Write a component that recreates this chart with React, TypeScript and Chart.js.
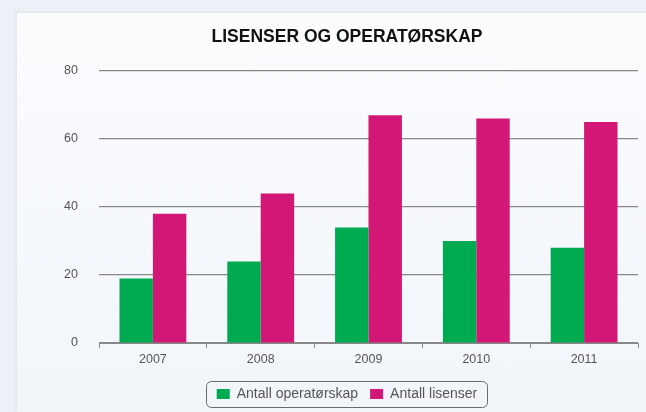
import React, { useEffect, useRef } from "react";
import { Chart, registerables } from "chart.js";

Chart.register(...registerables);

const categories = ["2007", "2008", "2009", "2010", "2011"];
const operatorskap = [19, 24, 34, 30, 28];
const lisenser = [38, 44, 67, 66, 65];
const seriesNames = ["Antall operatørskap", "Antall lisenser"];
const yTicks = [0, 20, 40, 60, 80];

const FONT = "Liberation Sans, Arial, Helvetica, sans-serif";

const legendBorder = {
  id: "legendBorder",
  afterDraw(chart: any) {
    const lg = chart.legend;
    if (!lg || !lg.legendHitBoxes || !lg.legendHitBoxes.length) return;
    const boxes = lg.legendHitBoxes;
    let l = Infinity, r = -Infinity, t = Infinity, b = -Infinity;
    for (const h of boxes) {
      l = Math.min(l, h.left);
      r = Math.max(r, h.left + h.width);
      t = Math.min(t, h.top);
      b = Math.max(b, h.top + h.height);
    }
    const ctx = chart.ctx;
    ctx.save();
    ctx.strokeStyle = "#6a6a6a";
    ctx.lineWidth = 1;
    ctx.beginPath();
    const cy = (t + b) / 2;
    const x = Math.round(l - 11) + 0.5;
    const y = Math.round(cy - 13) + 0.5;
    const w = Math.round(r - l + 20);
    const hh = 26;
    (ctx as any).roundRect(x, y, w, hh, 5);
    ctx.stroke();
    ctx.restore();
  },
};

export default function App() {
  const ref = useRef<HTMLCanvasElement>(null);
  useEffect(() => {
    document.body.style.margin = "0";
    const chart = new Chart(ref.current!, {
      type: "bar",
      data: {
        labels: categories,
        datasets: [
          {
            label: seriesNames[0],
            data: operatorskap,
            backgroundColor: "#00aa50",
            categoryPercentage: 0.62,
            barPercentage: 1,
          },
          {
            label: seriesNames[1],
            data: lisenser,
            backgroundColor: "#d21777",
            categoryPercentage: 0.62,
            barPercentage: 1,
          },
        ],
      },
      options: {
        animation: false,
        responsive: false,
        layout: { padding: { left: 56, right: 8, top: 19, bottom: 1 } },
        plugins: {
          title: {
            display: true,
            text: "LISENSER OG OPERATØRSKAP",
            color: "#111",
            font: { family: FONT, size: 17.5, weight: "bold" },
            padding: { top: 8, bottom: 23 },
          },
          legend: {
            position: "bottom",
            labels: {
              boxWidth: 13,
              boxHeight: 10,
              padding: 12,
              color: "#555",
              font: { family: FONT, size: 14 },
            },
          },
          tooltip: { enabled: false },
        },
        scales: {
          x: {
            grid: { display: true, drawOnChartArea: false, drawTicks: true, tickLength: 5, color: "#888" },
            border: { display: true, color: "#888", width: 1 },
            ticks: { color: "#555", font: { family: FONT, size: 12.5 }, padding: 4 },
            afterFit: (scale: any) => {
              scale.height += 4;
            },
          },
          y: {
            min: 0,
            max: 80,
            afterBuildTicks: (axis: any) => {
              axis.ticks = yTicks.map((v) => ({ value: v }));
            },
            afterFit: (scale: any) => {
              scale.width = 43;
            },
            grid: { color: "#888", lineWidth: 1.2, drawTicks: false },
            border: { display: false },
            ticks: { color: "#555", font: { family: FONT, size: 12.5 }, padding: 21 },
          },
        },
      },
      plugins: [legendBorder],
    });
    return () => chart.destroy();
  }, []);
  return (
    <div
      style={{
        position: "relative",
        width: 646,
        height: 412,
        background: "#edf1f7",
        overflow: "hidden",
      }}
    >
      <div
        style={{
          position: "absolute",
          left: 15,
          top: 11,
          width: 640,
          height: 410,
          background: "linear-gradient(180deg, #fbfcfe 0%, #f1f5fa 100%)",
          borderTop: "2px solid #e6e8ec",
          borderLeft: "2px solid #e6e8ec",
        }}
      />
      <canvas ref={ref} width={646} height={412} style={{ position: "absolute", left: 0, top: 0 }} />
    </div>
  );
}
